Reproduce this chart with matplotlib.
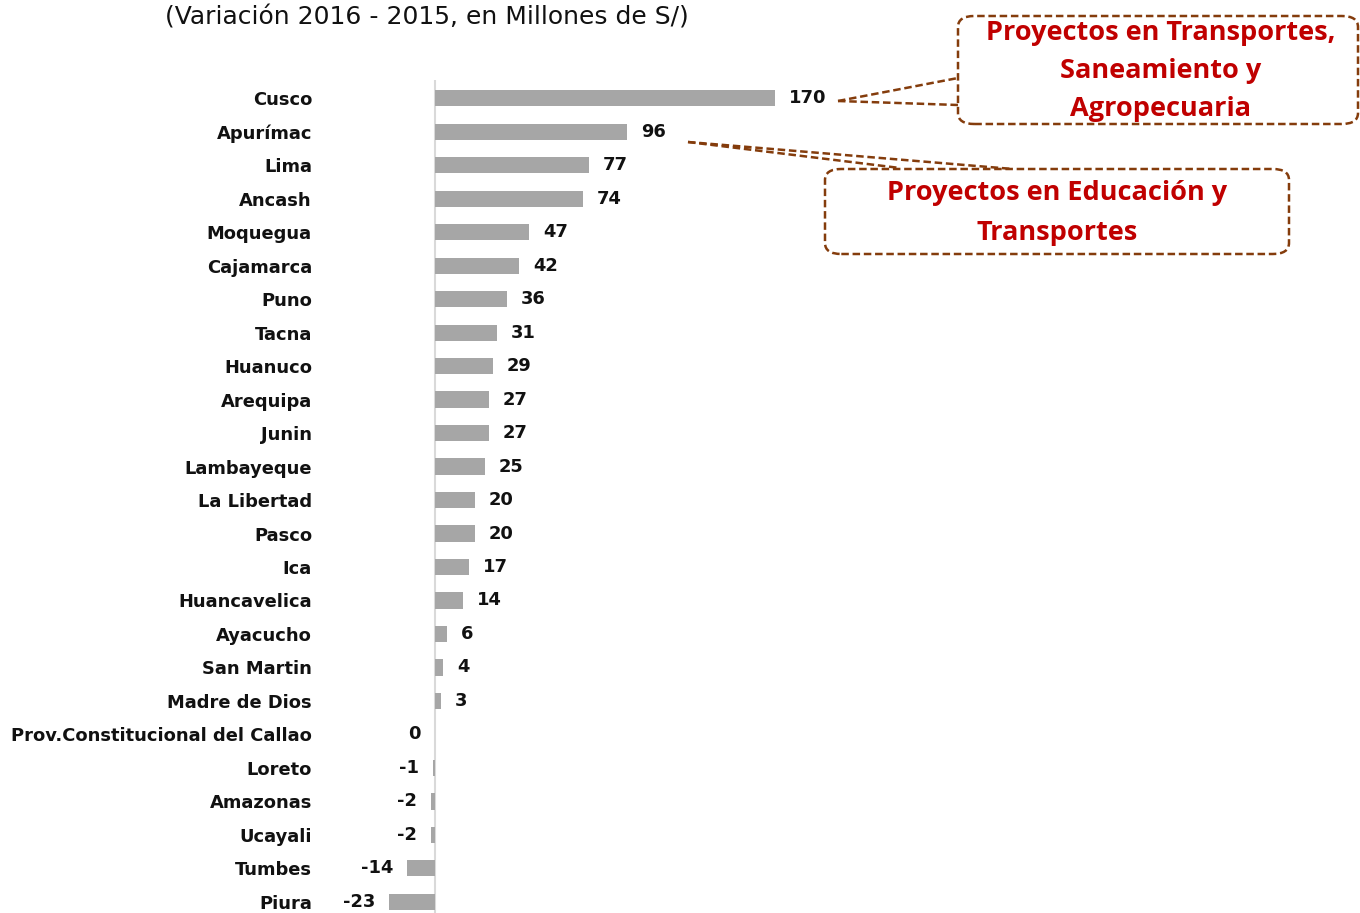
import matplotlib.pyplot as plt
from matplotlib.patches import FancyBboxPatch
from matplotlib.lines import Line2D

regiones = ['Cusco', 'Apurímac', 'Lima', 'Ancash', 'Moquegua', 'Cajamarca', 'Puno',
            'Tacna', 'Huanuco', 'Arequipa', 'Junin', 'Lambayeque', 'La Libertad',
            'Pasco', 'Ica', 'Huancavelica', 'Ayacucho', 'San Martin', 'Madre de Dios',
            'Prov.Constitucional del Callao', 'Loreto', 'Amazonas', 'Ucayali',
            'Tumbes', 'Piura']
variacion = [170, 96, 77, 74, 47, 42, 36, 31, 29, 27, 27, 25, 20, 20, 17, 14,
             6, 4, 3, 0, -1, -2, -2, -14, -23]

titulo = '(Variación 2016 - 2015, en Millones de S/)'
nota1 = 'Proyectos en Transportes,\nSaneamiento y\nAgropecuaria'
nota2 = 'Proyectos en Educación y\nTransportes'

W, H = 1360, 913
fig = plt.figure(figsize=(W / 100, H / 100), dpi=100, facecolor='white')

def px(x, y):
    # figure pixel (from top-left) -> figure fraction
    return x / W, 1 - y / H

# axes: zero at x=435, 2 px per unit
ax = fig.add_axes([335 / W, 0, 1020 / W, 833 / H])
ax.set_xlim(-50, 460)
ax.set_ylim(24.33, -0.54)

pos = list(range(len(regiones)))
ax.barh(pos, variacion, height=0.48, color='#A6A6A6', zorder=2)
ax.axvline(0, color='#D9D9D9', lw=1.5, zorder=1)

fuente = 'DejaVu Sans'
for i, v in enumerate(variacion):
    if v > 0:
        ax.text(v + 7, i, str(v), ha='left', va='center', fontsize=12.9,
                fontweight='bold', family=fuente, color='#111111')
    else:
        ax.text(v - 7, i, str(v), ha='right', va='center', fontsize=12.9,
                fontweight='bold', family=fuente, color='#111111')

ax.set_yticks(pos)
ax.set_yticklabels(regiones, fontsize=12.9, fontweight='bold', family=fuente,
                   color='#111111')
ax.tick_params(axis='y', length=0, pad=23 * 0.72)
ax.set_xticks([])
for s in ax.spines.values():
    s.set_visible(False)

fig.text(*px(427, 18), titulo, ha='center', va='center', fontsize=18,
         family=fuente, color='#111111')

borde = '#843C0C'
rojo = '#C00000'
fuente_nota = ['Open Sans', 'DejaVu Sans']

# callout boxes
for (x0, y0, x1, y1) in [(958, 16, 1358, 124), (825, 169, 1289, 254)]:
    fx0, fy1 = px(x0, y0)
    fx1, fy0 = px(x1, y1)
    box = FancyBboxPatch((fx0, fy0), fx1 - fx0, fy1 - fy0,
                         boxstyle='round,pad=0,rounding_size=0.012',
                         transform=fig.transFigure, fill=False,
                         edgecolor=borde, lw=1.8, ls=(0, (3, 1.5)))
    fig.add_artist(box)

fig.text(*px(1161, 71), nota1, ha='center', va='center', fontsize=19.5,
         fontweight='bold', family=fuente_nota, color=rojo, linespacing=1.6)
fig.text(*px(1057, 213), nota2, ha='center', va='center', fontsize=19.5,
         fontweight='bold', family=fuente_nota, color=rojo, linespacing=1.65)

# leader lines
for (a, b) in [((838, 101), (958, 78)), ((838, 101), (958, 105)),
               ((688, 142), (900, 168)), ((688, 142), (1013, 169))]:
    (xa, ya), (xb, yb) = px(*a), px(*b)
    fig.add_artist(Line2D([xa, xb], [ya, yb], transform=fig.transFigure,
                          color=borde, lw=1.8, ls=(0, (3, 1.5))))

fig.savefig('out.png', dpi=100)
